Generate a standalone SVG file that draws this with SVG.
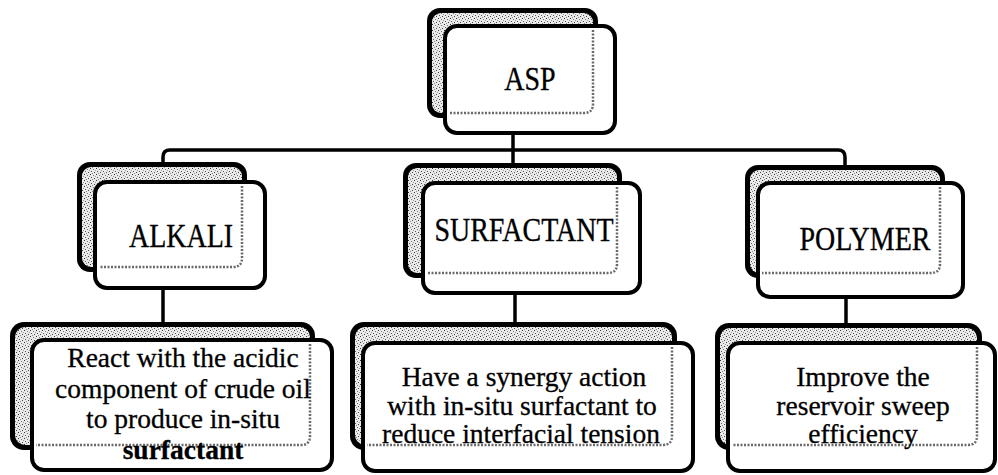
<svg xmlns="http://www.w3.org/2000/svg" width="998" height="475" viewBox="0 0 998 475">
  <defs>
    <!-- grainy grey fill used inside the shadow cards -->
    <pattern id="stip" width="6" height="6" patternUnits="userSpaceOnUse">
      <rect width="6" height="6" fill="#eaeaea"/>
      <rect x="0" y="0" width="1" height="1" fill="#333"/>
      <rect x="3" y="1" width="1" height="1" fill="#777"/>
      <rect x="1" y="3" width="1" height="1" fill="#555"/>
      <rect x="4" y="4" width="1" height="1" fill="#444"/>
      <rect x="5" y="2" width="1" height="1" fill="#999"/>
      <rect x="2" y="5" width="1" height="1" fill="#888"/>
    </pattern>
  </defs>
  <style>
    .back { fill: #000; }
    .grain { fill: url(#stip); }
    .front { fill: #fff; stroke: #000; stroke-width: 4; }
    .edge { fill: none; stroke: #6a6a6a; stroke-width: 2.5; stroke-dasharray: 2 1.5; }
    .wire { fill: none; stroke: #000; stroke-width: 3.5; }
    text { font-family: "Liberation Serif", "Times New Roman", "DejaVu Serif", serif; font-size: 28px; fill: #000; text-anchor: middle; stroke: #000; stroke-width: 0.3; }
    .note { font-size: 27.5px; }
  </style>

  <rect width="998" height="475" fill="#fff"/>

  <g id="connectors">
    <path class="wire" d="M513,133 V165"/>
    <path class="wire" d="M163,166 V157 Q163,150 170,150 H838 Q845,150 845,157 V166"/>
    <path class="wire" d="M163,288 V324"/>
    <path class="wire" d="M515,292 V324"/>
    <path class="wire" d="M846,296 V325"/>
  </g>

  <g id="asp">
    <rect class="back" x="427" y="8" width="171" height="110" rx="13"/>
    <rect class="grain" x="432" y="13" width="161" height="100" rx="9"/>
    <rect class="front" x="445" y="26" width="170" height="107" rx="12"/>
    <path class="edge" d="M593,30 V104 Q593,113 584,113 H449"/>
    <text transform="translate(530,90) scale(1,1.2)">ASP</text>
  </g>

  <g id="alkali">
    <rect class="back" x="77" y="162" width="170" height="110" rx="13"/>
    <rect class="grain" x="82" y="167" width="160" height="100" rx="9"/>
    <rect class="front" x="95" y="182" width="170" height="106" rx="12"/>
    <path class="edge" d="M242,186 V258 Q242,267 233,267 H99"/>
    <text transform="translate(181,247) scale(1,1.2)">ALKALI</text>
  </g>

  <g id="surfactant">
    <rect class="back" x="403" y="163" width="219" height="115" rx="13"/>
    <rect class="grain" x="408" y="168" width="209" height="105" rx="9"/>
    <rect class="front" x="423" y="183" width="217" height="110" rx="12"/>
    <path class="edge" d="M617,187 V264 Q617,273 608,273 H427"/>
    <text transform="translate(524,241) scale(1,1.2)">SURFACTANT</text>
  </g>

  <g id="polymer">
    <rect class="back" x="745" y="165" width="200" height="113" rx="13"/>
    <rect class="grain" x="750" y="170" width="190" height="103" rx="9"/>
    <rect class="front" x="758" y="183" width="205" height="114" rx="12"/>
    <path class="edge" d="M940,187 V264 Q940,273 931,273 H762"/>
    <text transform="translate(865,250) scale(1,1.2)">POLYMER</text>
  </g>

  <g id="alkali-note">
    <rect class="back" x="10" y="322" width="305" height="128" rx="14"/>
    <rect class="grain" x="15" y="327" width="295" height="118" rx="10"/>
    <rect class="front" x="32" y="340" width="300" height="130" rx="12"/>
    <path class="edge" d="M310,344 V436 Q310,445 301,445 H36"/>
    <text class="note" x="183" y="367">React with the acidic</text>
    <text class="note" x="183" y="398">component of crude oil</text>
    <text class="note" x="183" y="428">to produce in-situ</text>
    <text class="note" x="183" y="459" font-weight="bold">surfactant</text>
  </g>

  <g id="surfactant-note">
    <rect class="back" x="350" y="322" width="327" height="128" rx="14"/>
    <rect class="grain" x="355" y="327" width="317" height="118" rx="10"/>
    <rect class="front" x="363" y="343" width="330" height="128" rx="12"/>
    <path class="edge" d="M672,347 V436 Q672,445 663,445 H367"/>
    <text class="note" x="524" y="386">Have a synergy action</text>
    <text class="note" x="522" y="415">with in-situ surfactant to</text>
    <text class="note" x="521" y="443">reduce interfacial tension</text>
  </g>

  <g id="polymer-note">
    <rect class="back" x="715" y="323" width="267" height="127" rx="14"/>
    <rect class="grain" x="720" y="328" width="257" height="117" rx="10"/>
    <rect class="front" x="728" y="343" width="267" height="128" rx="12"/>
    <path class="edge" d="M977,347 V436 Q977,445 968,445 H732"/>
    <text class="note" x="863" y="386">Improve the</text>
    <text class="note" x="863" y="415">reservoir sweep</text>
    <text class="note" x="863" y="443">efficiency</text>
  </g>
</svg>
